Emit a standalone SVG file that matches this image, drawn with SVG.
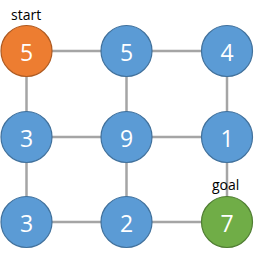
<svg xmlns="http://www.w3.org/2000/svg" width="272" height="256" viewBox="0 0 272 256">
<style>
.e{stroke:#A5A5A5;stroke-width:2.5;fill:none}
.n{stroke-width:1.2}
.b{fill:#5B9BD5;stroke:#41719C}
.o{fill:#ED7D31;stroke:#AE5A21}
.g{fill:#70AD47;stroke:#507E32}
.v{fill:#FFFFFF;font-family:"Open Sans","Noto Sans",sans-serif;font-size:23px;text-anchor:middle;dominant-baseline:central}
.l{fill:#000000;font-family:"Open Sans","Noto Sans",sans-serif;font-size:14px}
</style>
<rect width="272" height="256" fill="#FFFFFF"/>
<g id="connectors">
<line class="e" x1="26.5" y1="51" x2="126.5" y2="51"/>
<line class="e" x1="126.5" y1="51" x2="227" y2="51"/>
<line class="e" x1="26.5" y1="137" x2="126.5" y2="137"/>
<line class="e" x1="126.5" y1="137" x2="227" y2="137"/>
<line class="e" x1="26.5" y1="222" x2="126.5" y2="222"/>
<line class="e" x1="126.5" y1="222" x2="227" y2="222"/>
<line class="e" x1="26.5" y1="51" x2="26.5" y2="222"/>
<line class="e" x1="126.5" y1="51" x2="126.5" y2="222"/>
<line class="e" x1="227" y1="51" x2="227" y2="222"/>
</g>
<g id="n00"><circle class="n o" cx="26.5" cy="51" r="25.5"/><text class="v" x="26.5" y="52">5</text></g>
<g id="n01"><circle class="n b" cx="126.5" cy="51" r="25.5"/><text class="v" x="126.5" y="52">5</text></g>
<g id="n02"><circle class="n b" cx="227" cy="51" r="25.5"/><text class="v" x="227" y="52">4</text></g>
<g id="n10"><circle class="n b" cx="26.5" cy="137" r="25.5"/><text class="v" x="26.5" y="138">3</text></g>
<g id="n11"><circle class="n b" cx="126.5" cy="137" r="25.5"/><text class="v" x="126.5" y="138">9</text></g>
<g id="n12"><circle class="n b" cx="227" cy="137" r="25.5"/><text class="v" x="227" y="138">1</text></g>
<g id="n20"><circle class="n b" cx="26.5" cy="222" r="25.5"/><text class="v" x="26.5" y="223">3</text></g>
<g id="n21"><circle class="n b" cx="126.5" cy="222" r="25.5"/><text class="v" x="126.5" y="223">2</text></g>
<g id="n22"><circle class="n g" cx="227" cy="222" r="25.5"/><text class="v" x="227" y="223">7</text></g>
<g id="labels">
<text class="l" x="11" y="20">start</text>
<text class="l" x="212" y="190">goal</text>
</g>
</svg>
